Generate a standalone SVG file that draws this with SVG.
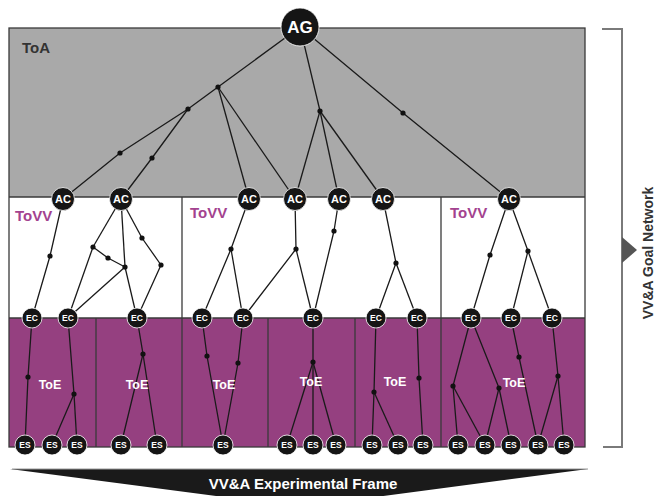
<svg xmlns="http://www.w3.org/2000/svg" width="656" height="496" viewBox="0 0 656 496">
<style>
.frame{stroke:#3a3a3a;stroke-width:1.3;fill:none}
.e{stroke:#1a1a1a;stroke-width:1.3;fill:none;stroke-linejoin:round}
.j{fill:#111}
.n{fill:#151515;stroke:#fff;stroke-width:0.8}
.t{font-family:"Liberation Sans",Arial,sans-serif;font-weight:bold;fill:#fff;text-anchor:middle}
.ag{font-size:17px}
.ac{font-size:11px}
.sm{font-size:8.5px}
.lbl{font-family:"Liberation Sans",Arial,sans-serif;font-weight:bold;font-size:15px}
.toe{font-family:"Liberation Sans",Arial,sans-serif;font-weight:bold;font-size:12.5px;fill:#fff;text-anchor:middle}
</style>
<g id="regions">
<rect x="9" y="28" width="576" height="169" fill="#a9a9a9"/>
<rect x="9" y="197" width="576" height="121" fill="#ffffff"/>
<rect x="9" y="318" width="576" height="129" fill="#954080"/>
<rect class="frame" x="9" y="28" width="576" height="419"/>
<line class="frame" x1="9" y1="197" x2="585" y2="197"/>
<line class="frame" x1="9" y1="318" x2="585" y2="318"/>
<line class="frame" x1="182" y1="197" x2="182" y2="447"/>
<line class="frame" x1="441" y1="197" x2="441" y2="447"/>
<line class="frame" x1="96" y1="318" x2="96" y2="447"/>
<line class="frame" x1="268" y1="318" x2="268" y2="447"/>
<line class="frame" x1="355" y1="318" x2="355" y2="447"/>
<text class="lbl" x="22" y="53" fill="#333">ToA</text>
<text class="lbl" x="15" y="221" fill="#a3428f">ToVV</text>
<text class="lbl" x="190" y="218" fill="#a3428f">ToVV</text>
<text class="lbl" x="450" y="218" fill="#a3428f">ToVV</text>
</g>
<g id="connectors">
<polyline class="e" points="300,27 218,87 188,109 120,153 63,199"/>
<polyline class="e" points="188,109 152,158 121,199"/>
<line class="e" x1="218" y1="87" x2="249" y2="199"/>
<line class="e" x1="218" y1="87" x2="295" y2="199"/>
<line class="e" x1="300" y1="27" x2="320" y2="111"/>
<line class="e" x1="320" y1="111" x2="295" y2="199"/>
<line class="e" x1="320" y1="111" x2="339" y2="199"/>
<line class="e" x1="320" y1="111" x2="383" y2="199"/>
<polyline class="e" points="300,27 403,113 509,199"/>
<polyline class="e" points="63,199 50,256 32,318"/>
<line class="e" x1="121" y1="199" x2="93" y2="247"/>
<line class="e" x1="121" y1="199" x2="125" y2="267"/>
<line class="e" x1="121" y1="199" x2="142" y2="238"/>
<polyline class="e" points="93,247 108,258 125,267"/>
<line class="e" x1="93" y1="247" x2="68" y2="318"/>
<line class="e" x1="125" y1="267" x2="68" y2="318"/>
<line class="e" x1="125" y1="267" x2="137" y2="318"/>
<polyline class="e" points="142,238 161,265 137,318"/>
<polyline class="e" points="249,199 231,249 202,318"/>
<line class="e" x1="231" y1="249" x2="243" y2="318"/>
<polyline class="e" points="295,199 296,249 243,318"/>
<line class="e" x1="296" y1="249" x2="313" y2="318"/>
<polyline class="e" points="339,199 334,231 313,318"/>
<polyline class="e" points="383,199 396,263 376,318"/>
<line class="e" x1="396" y1="263" x2="417" y2="318"/>
<polyline class="e" points="509,199 490,255 471,318"/>
<polyline class="e" points="509,199 528,251 511,318"/>
<line class="e" x1="528" y1="251" x2="552" y2="318"/>
<polyline class="e" points="32,318 28,377 25,445"/>
<polyline class="e" points="68,318 74,394 52,445"/>
<line class="e" x1="74" y1="394" x2="77" y2="445"/>
<polyline class="e" points="137,318 143,354 121,445"/>
<line class="e" x1="143" y1="354" x2="157" y2="445"/>
<polyline class="e" points="202,318 207,356 223,445"/>
<polyline class="e" points="243,318 238,363 223,445"/>
<line class="e" x1="313" y1="318" x2="313" y2="362"/>
<line class="e" x1="313" y1="362" x2="287" y2="445"/>
<line class="e" x1="313" y1="362" x2="313" y2="445"/>
<line class="e" x1="313" y1="362" x2="336" y2="445"/>
<polyline class="e" points="376,318 374,392 372,445"/>
<line class="e" x1="374" y1="392" x2="398" y2="445"/>
<polyline class="e" points="417,318 419,378 423,445"/>
<polyline class="e" points="471,318 453,386 458,445"/>
<line class="e" x1="453" y1="386" x2="485" y2="445"/>
<polyline class="e" points="471,318 499,388 485,445"/>
<line class="e" x1="499" y1="388" x2="511" y2="445"/>
<polyline class="e" points="511,318 519,357 538,445"/>
<polyline class="e" points="552,318 558,376 538,445"/>
<line class="e" x1="558" y1="376" x2="564" y2="445"/>
</g>
<g id="junctions">
<circle class="j" cx="218" cy="87" r="2.6"/>
<circle class="j" cx="188" cy="109" r="2.6"/>
<circle class="j" cx="120" cy="153" r="2.6"/>
<circle class="j" cx="152" cy="158" r="2.6"/>
<circle class="j" cx="320" cy="111" r="2.6"/>
<circle class="j" cx="403" cy="113" r="2.6"/>
<circle class="j" cx="50" cy="256" r="2.6"/>
<circle class="j" cx="93" cy="247" r="2.6"/>
<circle class="j" cx="108" cy="258" r="2.6"/>
<circle class="j" cx="125" cy="267" r="2.6"/>
<circle class="j" cx="142" cy="238" r="2.6"/>
<circle class="j" cx="161" cy="265" r="2.6"/>
<circle class="j" cx="231" cy="249" r="2.6"/>
<circle class="j" cx="296" cy="249" r="2.6"/>
<circle class="j" cx="334" cy="231" r="2.6"/>
<circle class="j" cx="396" cy="263" r="2.6"/>
<circle class="j" cx="490" cy="255" r="2.6"/>
<circle class="j" cx="528" cy="251" r="2.6"/>
<circle class="j" cx="28" cy="377" r="2.6"/>
<circle class="j" cx="74" cy="394" r="2.6"/>
<circle class="j" cx="143" cy="354" r="2.6"/>
<circle class="j" cx="207" cy="356" r="2.6"/>
<circle class="j" cx="238" cy="363" r="2.6"/>
<circle class="j" cx="313" cy="362" r="2.6"/>
<circle class="j" cx="374" cy="392" r="2.6"/>
<circle class="j" cx="419" cy="378" r="2.6"/>
<circle class="j" cx="453" cy="386" r="2.6"/>
<circle class="j" cx="499" cy="388" r="2.6"/>
<circle class="j" cx="519" cy="357" r="2.6"/>
<circle class="j" cx="558" cy="376" r="2.6"/>
</g>
<g id="toe-labels">
<text class="toe" x="50" y="389">ToE</text>
<text class="toe" x="137" y="389">ToE</text>
<text class="toe" x="224" y="389">ToE</text>
<text class="toe" x="311" y="386">ToE</text>
<text class="toe" x="395" y="386">ToE</text>
<text class="toe" x="514" y="387">ToE</text>
</g>
<g id="ag"><circle class="n" cx="300" cy="27" r="19"/><text class="t ag" x="300" y="33">AG</text></g>
<g id="ac1"><circle class="n" cx="63" cy="199" r="11.5"/><text class="t ac" x="63" y="203">AC</text></g>
<g id="ac2"><circle class="n" cx="121" cy="199" r="11.5"/><text class="t ac" x="121" y="203">AC</text></g>
<g id="ac3"><circle class="n" cx="249" cy="199" r="11.5"/><text class="t ac" x="249" y="203">AC</text></g>
<g id="ac4"><circle class="n" cx="295" cy="199" r="11.5"/><text class="t ac" x="295" y="203">AC</text></g>
<g id="ac5"><circle class="n" cx="339" cy="199" r="11.5"/><text class="t ac" x="339" y="203">AC</text></g>
<g id="ac6"><circle class="n" cx="383" cy="199" r="11.5"/><text class="t ac" x="383" y="203">AC</text></g>
<g id="ac7"><circle class="n" cx="509" cy="199" r="11.5"/><text class="t ac" x="509" y="203">AC</text></g>
<g id="ec1"><circle class="n" cx="32" cy="318" r="10"/><text class="t sm" x="32" y="321">EC</text></g>
<g id="ec2"><circle class="n" cx="68" cy="318" r="10"/><text class="t sm" x="68" y="321">EC</text></g>
<g id="ec3"><circle class="n" cx="137" cy="318" r="10"/><text class="t sm" x="137" y="321">EC</text></g>
<g id="ec4"><circle class="n" cx="202" cy="318" r="10"/><text class="t sm" x="202" y="321">EC</text></g>
<g id="ec5"><circle class="n" cx="243" cy="318" r="10"/><text class="t sm" x="243" y="321">EC</text></g>
<g id="ec6"><circle class="n" cx="313" cy="318" r="10"/><text class="t sm" x="313" y="321">EC</text></g>
<g id="ec7"><circle class="n" cx="376" cy="318" r="10"/><text class="t sm" x="376" y="321">EC</text></g>
<g id="ec8"><circle class="n" cx="417" cy="318" r="10"/><text class="t sm" x="417" y="321">EC</text></g>
<g id="ec9"><circle class="n" cx="471" cy="318" r="10"/><text class="t sm" x="471" y="321">EC</text></g>
<g id="ec10"><circle class="n" cx="511" cy="318" r="10"/><text class="t sm" x="511" y="321">EC</text></g>
<g id="ec11"><circle class="n" cx="552" cy="318" r="10"/><text class="t sm" x="552" y="321">EC</text></g>
<g id="es1"><circle class="n" cx="25" cy="445" r="10"/><text class="t sm" x="25" y="448">ES</text></g>
<g id="es2"><circle class="n" cx="52" cy="445" r="10"/><text class="t sm" x="52" y="448">ES</text></g>
<g id="es3"><circle class="n" cx="77" cy="445" r="10"/><text class="t sm" x="77" y="448">ES</text></g>
<g id="es4"><circle class="n" cx="121" cy="445" r="10"/><text class="t sm" x="121" y="448">ES</text></g>
<g id="es5"><circle class="n" cx="157" cy="445" r="10"/><text class="t sm" x="157" y="448">ES</text></g>
<g id="es6"><circle class="n" cx="223" cy="445" r="10"/><text class="t sm" x="223" y="448">ES</text></g>
<g id="es7"><circle class="n" cx="287" cy="445" r="10"/><text class="t sm" x="287" y="448">ES</text></g>
<g id="es8"><circle class="n" cx="313" cy="445" r="10"/><text class="t sm" x="313" y="448">ES</text></g>
<g id="es9"><circle class="n" cx="336" cy="445" r="10"/><text class="t sm" x="336" y="448">ES</text></g>
<g id="es10"><circle class="n" cx="372" cy="445" r="10"/><text class="t sm" x="372" y="448">ES</text></g>
<g id="es11"><circle class="n" cx="398" cy="445" r="10"/><text class="t sm" x="398" y="448">ES</text></g>
<g id="es12"><circle class="n" cx="423" cy="445" r="10"/><text class="t sm" x="423" y="448">ES</text></g>
<g id="es13"><circle class="n" cx="458" cy="445" r="10"/><text class="t sm" x="458" y="448">ES</text></g>
<g id="es14"><circle class="n" cx="485" cy="445" r="10"/><text class="t sm" x="485" y="448">ES</text></g>
<g id="es15"><circle class="n" cx="511" cy="445" r="10"/><text class="t sm" x="511" y="448">ES</text></g>
<g id="es16"><circle class="n" cx="538" cy="445" r="10"/><text class="t sm" x="538" y="448">ES</text></g>
<g id="es17"><circle class="n" cx="564" cy="445" r="10"/><text class="t sm" x="564" y="448">ES</text></g>
<g id="goal-network">
<polyline points="602,29 622,29 622,447 603,447" fill="none" stroke="#7a7a7a" stroke-width="2"/>
<polygon points="622,237 637,250 622,263" fill="#555"/>
<text class="lbl" x="0" y="0" fill="#333" text-anchor="middle" transform="translate(653,253) rotate(-90)" style="font-size:14px">VV&amp;A Goal Network</text>
</g>
<g id="experimental-frame">
<polygon points="10,469 588,469 300,507" fill="#1a1a1a"/>
<line x1="12" y1="469" x2="588" y2="469" stroke="#999" stroke-width="1"/>
<text class="t" x="303" y="489" style="font-size:15px">VV&amp;A Experimental Frame</text>
</g>
</svg>
